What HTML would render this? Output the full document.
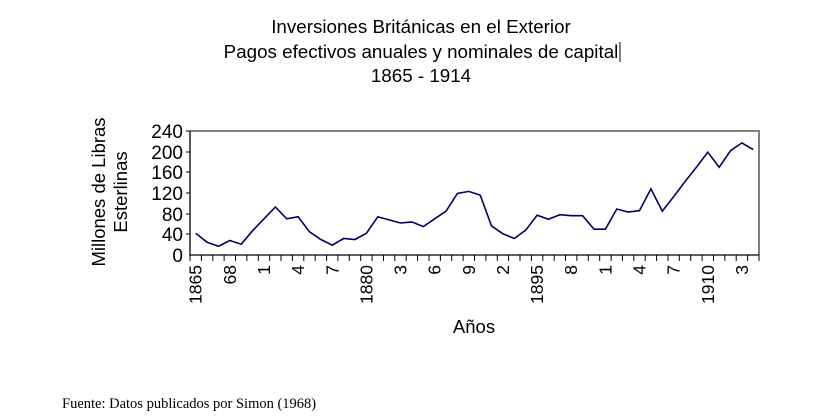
<!DOCTYPE html>
<html><head><meta charset="utf-8"><style>body{margin:0;background:#fff}svg{display:block}</style></head><body>
<svg width="822" height="419" xmlns="http://www.w3.org/2000/svg" font-family="Liberation Sans, Arial, sans-serif">
<rect width="822" height="419" fill="#fff"/>
<g font-size="18.8" text-anchor="middle" fill="#000">
<text x="421" y="33">Inversiones Británicas en el Exterior</text>
<text x="421" y="58">Pagos efectivos anuales y nominales de capital</text>
<text x="421" y="82">1865 - 1914</text>
</g>
<line x1="620" y1="42" x2="620" y2="62" stroke="#000" stroke-width="1"/>
<polyline points="190,131 759,131 759,255" fill="none" stroke="#808080" stroke-width="2"/>
<line x1="190" y1="131" x2="190" y2="256" stroke="#000" stroke-width="1.3"/>
<line x1="190" y1="255" x2="759" y2="255" stroke="#000" stroke-width="1.3"/>
<path stroke="#000" stroke-width="1" fill="none" d="M190,255v6M201.4,255v6M212.8,255v6M224.1,255v6M235.5,255v6M246.9,255v6M258.3,255v6M269.7,255v6M281,255v6M292.4,255v6M303.8,255v6M315.2,255v6M326.6,255v6M337.9,255v6M349.3,255v6M360.7,255v6M372.1,255v6M383.5,255v6M394.8,255v6M406.2,255v6M417.6,255v6M429,255v6M440.4,255v6M451.7,255v6M463.1,255v6M474.5,255v6M485.9,255v6M497.3,255v6M508.6,255v6M520,255v6M531.4,255v6M542.8,255v6M554.2,255v6M565.5,255v6M576.9,255v6M588.3,255v6M599.7,255v6M611.1,255v6M622.4,255v6M633.8,255v6M645.2,255v6M656.6,255v6M668,255v6M679.3,255v6M690.7,255v6M702.1,255v6M713.5,255v6M724.9,255v6M736.2,255v6M747.6,255v6M759,255v6"/>
<g font-size="19" text-anchor="end" fill="#000">
<text x="183" y="262">0</text><text x="183" y="241">40</text><text x="183" y="221">80</text><text x="183" y="200">120</text><text x="183" y="179">160</text><text x="183" y="159">200</text><text x="183" y="138">240</text>
</g>
<path stroke="#000" d="M186,131h4M186,152h4M186,172h4M186,193h4M186,214h4M186,234h4"/>
<polyline fill="none" stroke="#000066" stroke-width="1.6" points="195.7,233.3 207.1,242.3 218.5,246.2 229.8,240.5 241.2,244.2 252.6,230.7 264,218.8 275.4,207 286.7,218.8 298.1,216.8 309.5,231.8 320.9,239.5 332.3,245.2 343.6,238.5 355,239.5 366.4,233.3 377.8,216.8 389.2,219.9 400.5,223 411.9,221.9 423.3,226.6 434.7,218.8 446.1,211.1 457.4,193.5 468.8,191.4 480.2,195.1 491.6,226.1 503,233.8 514.3,238.5 525.7,230.2 537.1,215.2 548.5,219.3 559.9,214.7 571.2,215.7 582.6,215.7 594,229.2 605.4,229.2 616.8,209 628.1,212.1 639.5,210.6 650.9,188.9 662.3,211.1 673.7,196.6 685,181.6 696.4,167.2 707.8,152.2 719.2,167.2 730.6,150.6 741.9,142.9 753.3,149.6"/>
<g font-size="17.5" fill="#000" text-anchor="end">
<text transform="translate(201.7,265) rotate(-90)">1865</text>
<text transform="translate(235.8,265) rotate(-90)">68</text>
<text transform="translate(270,265) rotate(-90)">1</text>
<text transform="translate(304.1,265) rotate(-90)">4</text>
<text transform="translate(338.3,265) rotate(-90)">7</text>
<text transform="translate(372.4,265) rotate(-90)">1880</text>
<text transform="translate(406.5,265) rotate(-90)">3</text>
<text transform="translate(440.7,265) rotate(-90)">6</text>
<text transform="translate(474.8,265) rotate(-90)">9</text>
<text transform="translate(509,265) rotate(-90)">2</text>
<text transform="translate(543.1,265) rotate(-90)">1895</text>
<text transform="translate(577.2,265) rotate(-90)">8</text>
<text transform="translate(611.4,265) rotate(-90)">1</text>
<text transform="translate(645.5,265) rotate(-90)">4</text>
<text transform="translate(679.7,265) rotate(-90)">7</text>
<text transform="translate(713.8,265) rotate(-90)">1910</text>
<text transform="translate(747.9,265) rotate(-90)">3</text>
</g>
<g font-size="18.5" text-anchor="middle" fill="#000">
<text transform="translate(105,192) rotate(-90)">Millones de Libras</text>
<text transform="translate(127,192) rotate(-90)">Esterlinas</text>
<text x="474" y="333">Años</text>
</g>
<text x="62" y="408" font-family="Liberation Serif, serif" font-size="14.5">Fuente: Datos publicados por Simon (1968)</text>
</svg>
</body></html>
